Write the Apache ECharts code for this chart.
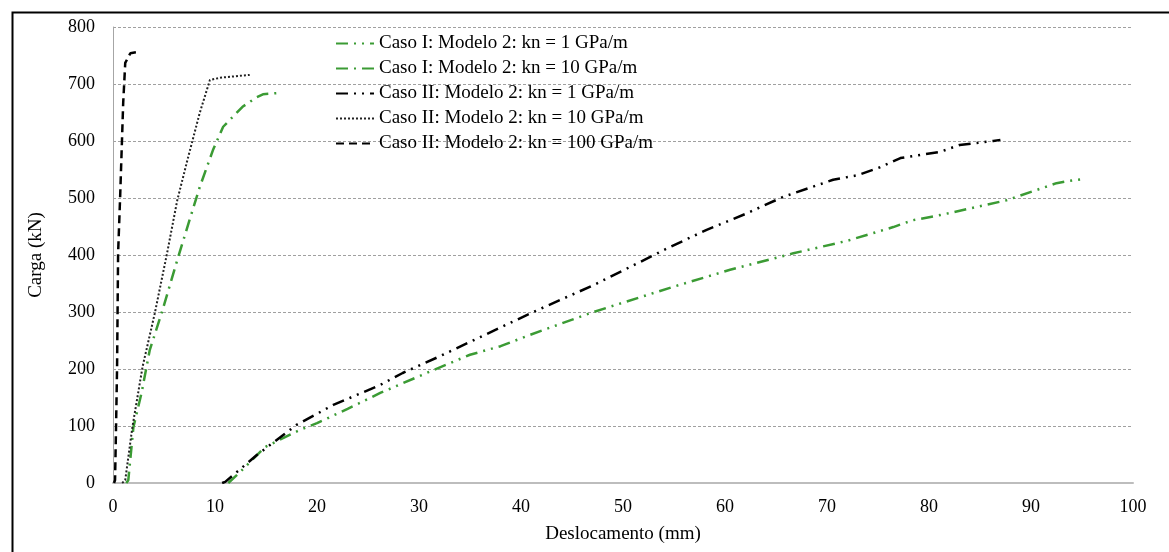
<!DOCTYPE html>
<html>
<head>
<meta charset="utf-8">
<script src="https://cdn.jsdelivr.net/npm/echarts@6/dist/echarts.min.js"></script>
<style>
html,body{margin:0;padding:0;background:#fff;}
#chart{width:1169px;height:552px;}
</style>
</head>
<body>
<div id="chart"></div>
<script>
// Tick labels
const xTicks = [0,10,20,30,40,50,60,70,80,90,100];
const yTicks = [0,100,200,300,400,500,600,700,800];

const seriesNames = [
  'Caso I: Modelo 2: kn = 1 GPa/m',
  'Caso I: Modelo 2: kn = 10 GPa/m',
  'Caso II: Modelo 2: kn = 1 GPa/m',
  'Caso II: Modelo 2: kn = 10 GPa/m',
  'Caso II: Modelo 2: kn = 100 GPa/m'
];

// Caso I, kn = 1 GPa/m
const c1k1_x = [11.3, 12.5, 14.9, 18.3, 20.0, 23.0, 26.2, 31.4, 35.0, 38.0, 40.9, 44.0, 47.1, 51.7, 54.9, 60.5, 66.7, 72.0, 76.5, 78.4, 81.1, 87.6, 92.5, 93.8, 95.0];
const c1k1_y = [0, 20, 63, 93, 105, 130, 158, 198, 225, 240, 260, 280, 300, 326, 344, 374, 403, 425, 449, 461, 470, 496, 526, 530, 533];

// Caso I, kn = 10 GPa/m
const c1k10_x = [1.3, 1.5, 2.0, 2.8, 3.6, 4.8, 6.3, 7.5, 8.5, 9.8, 10.8, 12.7, 14.1, 14.7, 16.1];
const c1k10_y = [0, 5, 98, 158, 233, 300, 391, 461, 519, 584, 625, 660, 677, 682, 684];

// Caso II, kn = 1 GPa/m
const c2k1_x = [10.7, 11.0, 14.1, 18.0, 21.6, 26.2, 28.4, 32.0, 36.0, 41.2, 47.1, 51.7, 54.6, 58.2, 62.0, 65.7, 70.6, 73.0, 75.2, 77.2, 81.1, 83.0, 86.3, 87.0];
const c2k1_y = [0, 2, 49, 102, 137, 172, 193, 222, 256, 300, 347, 388, 414, 444, 472, 502, 532, 540, 554, 570, 581, 593, 600, 602];

// Caso II, kn = 10 GPa/m
const c2k10_x = [0.9, 1.2, 1.9, 2.9, 4.1, 5.3, 6.3, 7.3, 8.5, 9.5, 10.5, 13.4];
const c2k10_y = [0, 5, 98, 204, 298, 403, 496, 567, 649, 707, 711, 716];

// Caso II, kn = 100 GPa/m
const c2k100_x = [0.1, 0.2, 0.3, 0.4, 0.5, 0.7, 1.0, 1.2, 1.7, 2.4];
const c2k100_y = [0, 5, 100, 204, 403, 502, 667, 737, 754, 756];

function pairs(xs, ys){ return xs.map((x,i)=>[x, ys[i]]); }

const GREEN = '#3b9b34';
const FONT = '"Liberation Serif", "DejaVu Serif", serif';

const chart = echarts.init(document.getElementById('chart'), null, {renderer:'canvas'});

function mkSeries(name, data, color, type, width){
  return {
    name: name, type: 'line', data: data, showSymbol: false, symbol: 'none',
    lineStyle: {color: color, width: width, type: type},
    itemStyle: {color: color},
    emphasis: {disabled: true}, silent: true, animation: false, z: 3
  };
}

chart.setOption({
  animation: false,
  backgroundColor: '#fff',
  graphic: [{
    type: 'rect', left: 10, top: 10, z: 0,
    shape: {x: 0, y: 0, width: 1170, height: 560},
    style: {fill: 'none', stroke: '#000', lineWidth: 2}
  }],
  grid: {left: 113, right: 36, top: 27, bottom: 69, containLabel: false},
  legend: {
    orient: 'vertical', left: 335, top: 34, padding: 0,
    itemWidth: 38, itemHeight: 18, itemGap: 6,
    itemStyle: {opacity: 0, borderWidth: 0},
    textStyle: {fontFamily: FONT, fontSize: 19, color: '#000', lineHeight: 19},
    data: seriesNames,
    selectedMode: false
  },
  xAxis: {
    type: 'value', min: 0, max: 100, interval: 10,
    name: 'Deslocamento (mm)', nameLocation: 'middle', nameGap: 42,
    nameTextStyle: {fontFamily: FONT, fontSize: 19, color: '#000'},
    axisLine: {show: true, onZero: false, lineStyle: {color: '#bdbdbd', width: 2}},
    axisTick: {show: false},
    splitLine: {show: false},
    axisLabel: {fontFamily: FONT, fontSize: 18, color: '#000', margin: 15,
      formatter: v => xTicks.includes(v) ? String(v) : ''}
  },
  yAxis: {
    type: 'value', min: 0, max: 800, interval: 100,
    name: 'Carga (kN)', nameLocation: 'middle', nameGap: 67, nameRotate: 90,
    nameTextStyle: {fontFamily: FONT, fontSize: 19, color: '#000'},
    axisLine: {show: true, lineStyle: {color: '#a6a6a6', width: 1}},
    axisTick: {show: false},
    splitLine: {show: true, lineStyle: {color: '#a0a0a0', width: 1, type: [3,2]}},
    axisLabel: {fontFamily: FONT, fontSize: 18, color: '#000', margin: 18,
      formatter: v => yTicks.includes(v) ? String(v) : ''}
  },
  series: [
    mkSeries(seriesNames[0], pairs(c1k1_x, c1k1_y), GREEN, [12,6,2,6,2,6], 2.5),
    mkSeries(seriesNames[1], pairs(c1k10_x, c1k10_y), GREEN, [12,6,2,6], 2.5),
    mkSeries(seriesNames[2], pairs(c2k1_x, c2k1_y), '#000', [12,6,2,6,2,6], 2.5),
    mkSeries(seriesNames[3], pairs(c2k10_x, c2k10_y), '#222', [2,2], 2),
    mkSeries(seriesNames[4], pairs(c2k100_x, c2k100_y), '#000', [8,5], 2.5)
  ]
});
</script>
</body>
</html>
